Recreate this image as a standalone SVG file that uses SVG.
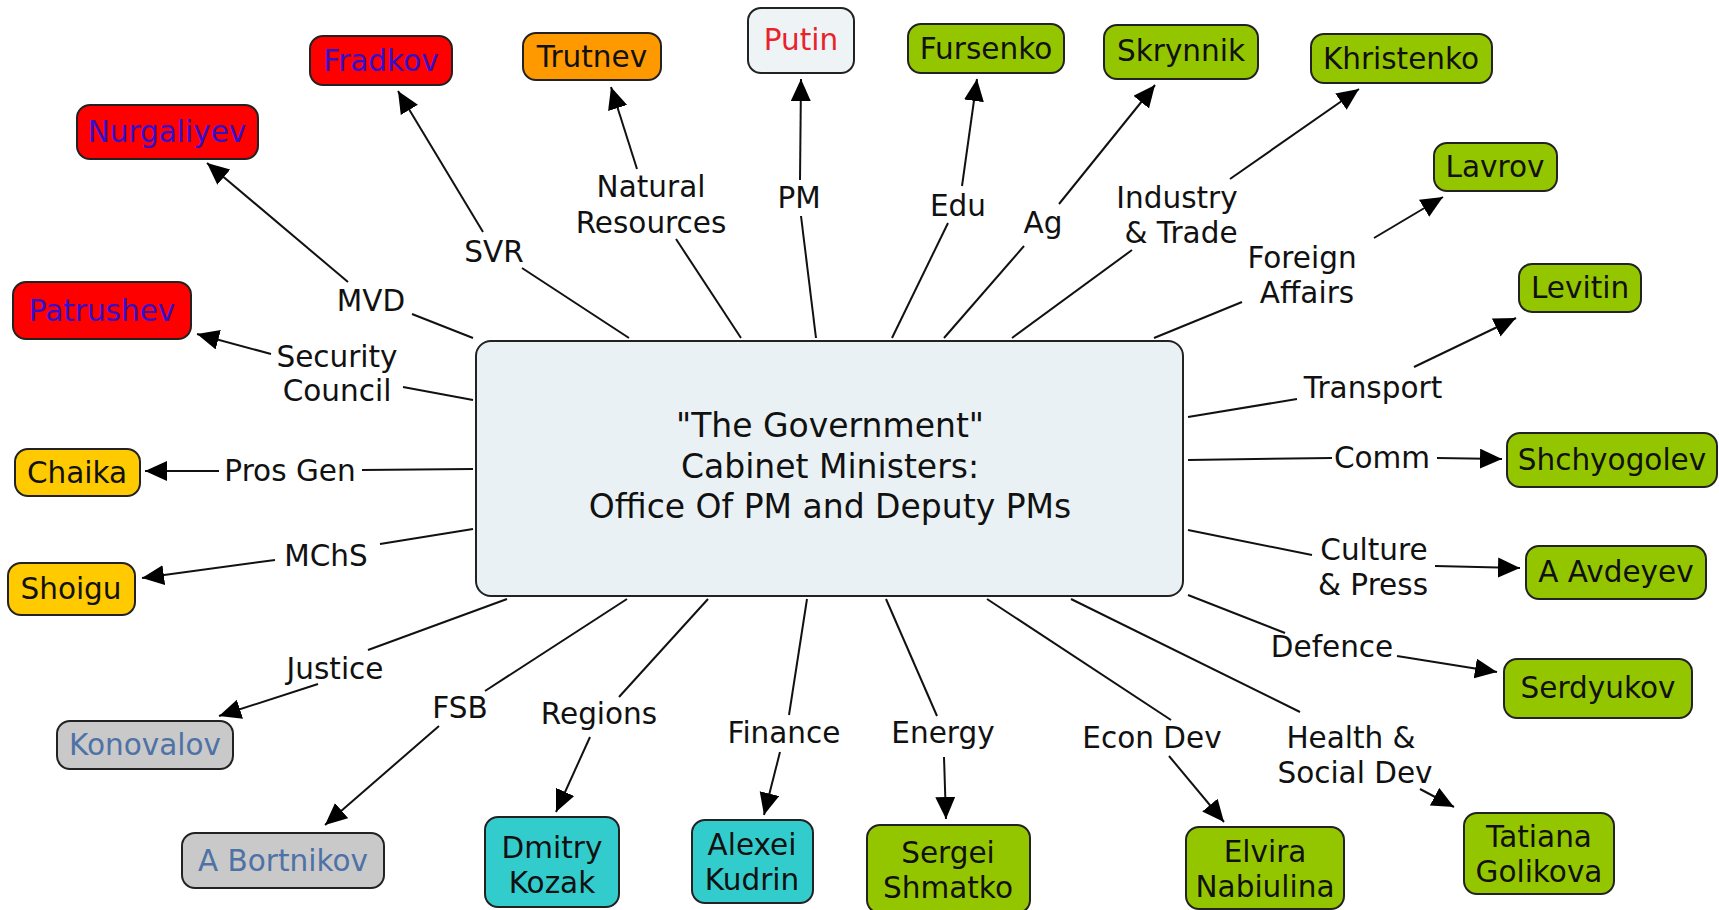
<svg xmlns="http://www.w3.org/2000/svg" width="1719" height="910" viewBox="0 0 1719 910">
<style>
text{font-family:"DejaVu Sans","Liberation Sans",sans-serif;font-size:29.5px;text-anchor:middle;fill:#111}
.n{stroke:#222;stroke-width:2}
.red{fill:#FF0000}.rt{fill:#3311CC}
.org{fill:#FF9900}
.grn{fill:#94C600}
.yel{fill:#FFCA00}
.gry{fill:#C9C9C9}.gt{fill:#4F72A6}
.teal{fill:#33CCCC}
.c line{stroke:#111;stroke-width:2}
.c line.a{marker-end:url(#ah)}
.main{font-size:33px}
</style>
<defs>
<marker id="ah" markerUnits="userSpaceOnUse" markerWidth="24" markerHeight="22" refX="22" refY="10" orient="auto"><path d="M0,0 L22,10 L0,20 z" fill="#000"/></marker>
</defs>
<rect width="1719" height="910" fill="#fff"/>

<g class="c" id="connectors">
<!-- MVD -->
<line x1="473" y1="338" x2="412" y2="314"/><line class="a" x1="348" y1="282" x2="207" y2="163"/><text x="371" y="311">MVD</text>
<!-- SVR -->
<line x1="629" y1="338" x2="522" y2="268"/><line class="a" x1="483" y1="232" x2="398" y2="91"/><text x="494" y="262">SVR</text>
<!-- Natural Resources -->
<line x1="741" y1="338" x2="676" y2="239"/><line class="a" x1="637" y1="169" x2="611" y2="87"/><text x="651" y="197">Natural</text><text x="651" y="233">Resources</text>
<!-- PM -->
<line x1="816" y1="338" x2="801" y2="216"/><line class="a" x1="800" y1="180" x2="801" y2="79"/><text x="799" y="208">PM</text>
<!-- Edu -->
<line x1="892" y1="338" x2="948" y2="223"/><line class="a" x1="962" y1="186" x2="977" y2="79"/><text x="958" y="216">Edu</text>
<!-- Ag -->
<line x1="944" y1="338" x2="1024" y2="246"/><line class="a" x1="1059" y1="204" x2="1155" y2="85"/><text x="1043" y="233">Ag</text>
<!-- Industry & Trade -->
<line x1="1012" y1="338" x2="1132" y2="250"/><line class="a" x1="1230" y1="179" x2="1359" y2="89"/><text x="1177" y="208">Industry</text><text x="1181" y="243">&amp; Trade</text>
<!-- Foreign Affairs -->
<line x1="1154" y1="338" x2="1242" y2="302"/><line class="a" x1="1374" y1="238" x2="1443" y2="197"/><text x="1302" y="268">Foreign</text><text x="1307" y="303">Affairs</text>
<!-- Transport -->
<line x1="1188" y1="417" x2="1297" y2="399"/><line class="a" x1="1414" y1="367" x2="1516" y2="318"/><text x="1373" y="398">Transport</text>
<!-- Comm -->
<line x1="1188" y1="460" x2="1332" y2="458"/><line class="a" x1="1437" y1="458" x2="1502" y2="459"/><text x="1382" y="468">Comm</text>
<!-- Culture & Press -->
<line x1="1188" y1="530" x2="1312" y2="555"/><line class="a" x1="1435" y1="566" x2="1520" y2="568"/><text x="1374" y="560">Culture</text><text x="1373" y="595">&amp; Press</text>
<!-- Defence -->
<line x1="1188" y1="595" x2="1285" y2="633"/><line class="a" x1="1397" y1="656" x2="1497" y2="672"/><text x="1332" y="657">Defence</text>
<!-- Health & Social Dev -->
<line x1="1071" y1="599" x2="1300" y2="712"/><line class="a" x1="1420" y1="789" x2="1454" y2="807"/><text x="1351" y="748">Health &amp;</text><text x="1355" y="783">Social Dev</text>
<!-- Econ Dev -->
<line x1="987" y1="599" x2="1171" y2="720"/><line class="a" x1="1169" y1="756" x2="1224" y2="822"/><text x="1152" y="748">Econ Dev</text>
<!-- Energy -->
<line x1="886" y1="599" x2="937" y2="716"/><line class="a" x1="944" y1="757" x2="946" y2="819"/><text x="943" y="743">Energy</text>
<!-- Finance -->
<line x1="807" y1="599" x2="789" y2="715"/><line class="a" x1="780" y1="752" x2="764" y2="815"/><text x="784" y="743">Finance</text>
<!-- Regions -->
<line x1="708" y1="599" x2="619" y2="697"/><line class="a" x1="590" y1="737" x2="556" y2="812"/><text x="599" y="724">Regions</text>
<!-- FSB -->
<line x1="627" y1="599" x2="485" y2="691"/><line class="a" x1="439" y1="726" x2="325" y2="825"/><text x="460" y="718">FSB</text>
<!-- Justice -->
<line x1="507" y1="599" x2="368" y2="650"/><line class="a" x1="318" y1="684" x2="219" y2="716"/><text x="335" y="679">Justice</text>
<!-- MChS -->
<line x1="473" y1="529" x2="380" y2="544"/><line class="a" x1="275" y1="560" x2="142" y2="578"/><text x="326" y="566">MChS</text>
<!-- Pros Gen -->
<line x1="473" y1="469" x2="362" y2="470"/><line class="a" x1="219" y1="471" x2="145" y2="471"/><text x="290" y="481">Pros Gen</text>
<!-- Security Council -->
<line x1="473" y1="400" x2="403" y2="387"/><line class="a" x1="271" y1="354" x2="197" y2="334"/><text x="337" y="367">Security</text><text x="337" y="401">Council</text>
</g>

<g id="center"><rect class="n" x="476" y="341" width="707" height="255" rx="15" fill="#EAF1F4"/>
<text class="main" x="830" y="437">"The Government"</text><text class="main" x="830" y="478">Cabinet Ministers:</text><text class="main" x="830" y="518">Office Of PM and Deputy PMs</text></g>

<g id="nurgaliyev"><rect class="n red" x="77" y="105" width="181" height="54" rx="13"/><text class="rt" x="167" y="142">Nurgaliyev</text></g>
<g id="fradkov"><rect class="n red" x="310" y="36" width="142" height="49" rx="13"/><text class="rt" x="381" y="71">Fradkov</text></g>
<g id="trutnev"><rect class="n org" x="523" y="33" width="138" height="47" rx="13"/><text x="592" y="67">Trutnev</text></g>
<g id="putin"><rect class="n" x="748" y="8" width="106" height="65" rx="13" fill="#EEF3F6"/><text x="801" y="50" style="fill:#E8232A">Putin</text></g>
<g id="fursenko"><rect class="n grn" x="908" y="24" width="156" height="49" rx="13"/><text x="986" y="59">Fursenko</text></g>
<g id="skrynnik"><rect class="n grn" x="1104" y="25" width="154" height="54" rx="13"/><text x="1181" y="61">Skrynnik</text></g>
<g id="khristenko"><rect class="n grn" x="1311" y="34" width="181" height="49" rx="13"/><text x="1401" y="69">Khristenko</text></g>
<g id="lavrov"><rect class="n grn" x="1434" y="143" width="123" height="48" rx="13"/><text x="1495" y="177">Lavrov</text></g>
<g id="levitin"><rect class="n grn" x="1519" y="264" width="122" height="48" rx="13"/><text x="1580" y="298">Levitin</text></g>
<g id="shchyogolev"><rect class="n grn" x="1507" y="433" width="210" height="54" rx="13"/><text x="1612" y="470">Shchyogolev</text></g>
<g id="avdeyev"><rect class="n grn" x="1526" y="546" width="180" height="53" rx="13"/><text x="1616" y="582">A Avdeyev</text></g>
<g id="serdyukov"><rect class="n grn" x="1504" y="659" width="188" height="59" rx="13"/><text x="1598" y="698">Serdyukov</text></g>
<g id="golikova"><rect class="n grn" x="1464" y="813" width="150" height="81" rx="13"/><text x="1539" y="847">Tatiana</text><text x="1539" y="882">Golikova</text></g>
<g id="nabiulina"><rect class="n grn" x="1186" y="827" width="158" height="82" rx="13"/><text x="1265" y="862">Elvira</text><text x="1265" y="897">Nabiulina</text></g>
<g id="shmatko"><rect class="n grn" x="867" y="825" width="163" height="88" rx="13"/><text x="948" y="863">Sergei</text><text x="948" y="898">Shmatko</text></g>
<g id="kudrin"><rect class="n teal" x="692" y="820" width="121" height="83" rx="13"/><text x="752" y="855">Alexei</text><text x="752" y="890">Kudrin</text></g>
<g id="kozak"><rect class="n teal" x="485" y="817" width="134" height="90" rx="13"/><text x="552" y="858">Dmitry</text><text x="552" y="893">Kozak</text></g>
<g id="bortnikov"><rect class="n gry" x="182" y="833" width="202" height="55" rx="13"/><text class="gt" x="283" y="871">A Bortnikov</text></g>
<g id="konovalov"><rect class="n gry" x="57" y="721" width="176" height="48" rx="13"/><text class="gt" x="145" y="755">Konovalov</text></g>
<g id="shoigu"><rect class="n yel" x="8" y="563" width="127" height="52" rx="13"/><text x="71" y="599">Shoigu</text></g>
<g id="chaika"><rect class="n yel" x="15" y="449" width="125" height="47" rx="13"/><text x="77" y="483">Chaika</text></g>
<g id="patrushev"><rect class="n red" x="13" y="282" width="178" height="57" rx="13"/><text class="rt" x="102" y="321">Patrushev</text></g>
</svg>
